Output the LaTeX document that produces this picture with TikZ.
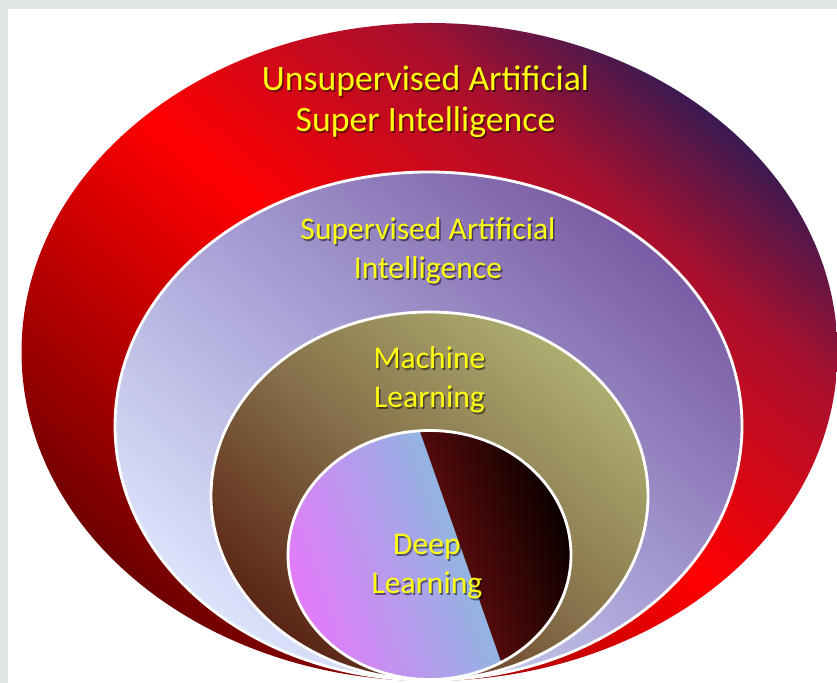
\documentclass[tikz,border=0pt]{standalone}
\usepackage{fontspec}
\setmainfont{Carlito}
\definecolor{framegray}{HTML}{E1E5E6}
\definecolor{txtyellow}{HTML}{FFFF10}
% red ellipse
\definecolor{rA}{HTML}{6E0000}
\definecolor{rB}{HTML}{9C0000}
\definecolor{rC}{HTML}{FF0000}
\definecolor{rD}{HTML}{A8102E}
\definecolor{rE}{HTML}{3A1A52}
% purple ellipse
\definecolor{pA}{HTML}{DCE4FC}
\definecolor{pB}{HTML}{A9A2D6}
\definecolor{pC}{HTML}{7A5CA4}
% olive ellipse
\definecolor{oA}{HTML}{5A2414}
\definecolor{oB}{HTML}{86704A}
\definecolor{oC}{HTML}{AEAE70}
% deep ellipse
\definecolor{dA}{HTML}{E47AFA}
\definecolor{dB}{HTML}{92B4E2}
\definecolor{dC}{HTML}{520A0A}
\definecolor{dD}{HTML}{0C0000}
\pgfdeclarehorizontalshading{redsh}{100bp}{color(0bp)=(rA); color(25bp)=(rA); color(32.5bp)=(rB); color(50bp)=(rC); color(66bp)=(rD); color(75bp)=(rE); color(100bp)=(rE)}
\pgfdeclarehorizontalshading{purpsh}{100bp}{color(0bp)=(pA); color(25bp)=(pA); color(50bp)=(pB); color(75bp)=(pC); color(100bp)=(pC)}
\pgfdeclarehorizontalshading{olivesh}{100bp}{color(0bp)=(oA); color(25bp)=(oA); color(50bp)=(oB); color(75bp)=(oC); color(100bp)=(oC)}
\pgfdeclarehorizontalshading{deepsh}{100bp}{color(0bp)=(dA); color(25bp)=(dA); color(55.6bp)=(dB); color(55.7bp)=(dC); color(75bp)=(dD); color(100bp)=(dD)}
\tikzset{
  ring/.style={white, line width=2.4pt},
  lblbig/.style={anchor=base, inner sep=0pt, text=txtyellow, font=\fontsize{30.5pt}{36pt}\selectfont},
  lbl/.style={anchor=base, inner sep=0pt, text=txtyellow, font=\fontsize{27pt}{33pt}\selectfont},
  shd/.style={text=black, opacity=0.5}
}
\begin{document}
\begin{tikzpicture}[x=0.03cm, y=0.03cm]
\useasboundingbox (0,0) rectangle (837,683);
\fill[framegray] (0,0) rectangle (837,683);
\fill[white] (8,0) rectangle (837,674);

% outer red ellipse
\begin{scope}
  \clip (429.5,331) ellipse [x radius=408, y radius=329];
  \shade[shading=redsh, transform canvas={rotate around={50:(429.5,331)}}]
    (429.5,331) ++(-363.7,-420) rectangle ++(727.4,840);
\end{scope}

% purple ellipse
\begin{scope}
  \clip (428.5,257) ellipse [x radius=313.5, y radius=254];
  \shade[shading=purpsh, transform canvas={rotate around={50:(428.5,257)}}]
    (428.5,257) ++(-280,-320) rectangle ++(560,640);
\end{scope}
\draw[ring] (428.5,257) ellipse [x radius=313.5, y radius=254];

% olive ellipse
\begin{scope}
  \clip (429.5,187) ellipse [x radius=218.5, y radius=184];
  \shade[shading=olivesh, transform canvas={rotate around={50:(429.5,187)}}]
    (429.5,187) ++(-199,-230) rectangle ++(398,460);
\end{scope}
\draw[ring] (429.5,187) ellipse [x radius=218.5, y radius=184];

% deep ellipse
\begin{scope}
  \clip (429.5,128) ellipse [x radius=141.5, y radius=124.5];
  \shade[shading=deepsh, transform canvas={rotate around={19.4:(429.5,128)}}]
    (429.5,128) ++(-139.7,-150) rectangle ++(279.4,300);
\end{scope}
\draw[ring] (429.5,128) ellipse [x radius=141.5, y radius=124.5];

% labels (shadow + text)
\node[lblbig, shd] (t1s) at (427,590.5) {Unsupervised Artificial};
\node[lblbig] (t1) at (425.5,592) {Unsupervised Artificial};
\node[lblbig, shd] (t2s) at (427,549.5) {Super Intelligence};
\node[lblbig] (t2) at (425.5,551) {Super Intelligence};

\node[lbl, shd] (t3s) at (429.5,441.5) {Supervised Artificial};
\node[lbl] (t3) at (428,443) {Supervised Artificial};
\node[lbl, shd] (t4s) at (429.5,402.5) {Intelligence};
\node[lbl] (t4) at (428,404) {Intelligence};

\node[lbl, shd] (t5s) at (431,312.5) {Machine};
\node[lbl] (t5) at (429.5,314) {Machine};
\node[lbl, shd] (t6s) at (431,273.5) {Learning};
\node[lbl] (t6) at (429.5,275) {Learning};

\node[lbl, shd] (t7s) at (428.5,126.5) {Deep};
\node[lbl] (t7) at (427,128) {Deep};
\node[lbl, shd] (t8s) at (428.5,87.5) {Learning};
\node[lbl] (t8) at (427,89) {Learning};
\end{tikzpicture}
\end{document}
